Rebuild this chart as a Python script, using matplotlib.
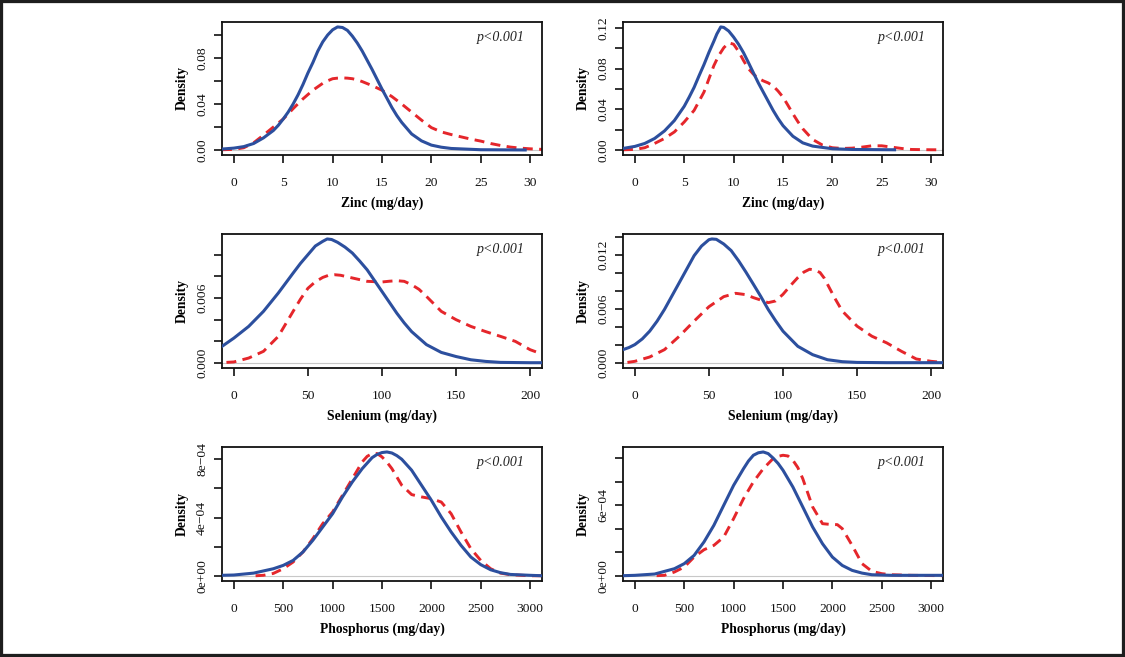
import matplotlib
matplotlib.use("Agg")
import matplotlib.pyplot as plt
from matplotlib.patches import Rectangle
import numpy as np

plt.rcParams['font.family'] = ['Liberation Serif', 'DejaVu Serif']

BLUE = '#2c4f9e'
RED = '#e5262b'

# Zinc, left panel
zinc_a_bx = [-1.2, 0, 1, 2, 3, 4, 4.5, 5, 5.5, 6, 6.5, 7, 7.5, 8, 8.5, 9, 9.5, 10, 10.5, 11, 11.5, 12, 12.5, 13,
             13.5, 14, 14.5, 15, 15.5, 16, 16.5, 17, 18, 19, 20, 21, 22, 25, 29.5]
zinc_a_by = [0.0009, 0.0017, 0.003, 0.0057, 0.0106, 0.017, 0.0215, 0.027, 0.033, 0.040, 0.048, 0.057, 0.067, 0.076,
             0.086, 0.094, 0.100, 0.1045, 0.107, 0.1065, 0.104, 0.099, 0.093, 0.086, 0.078, 0.070, 0.0615, 0.053,
             0.045, 0.037, 0.030, 0.024, 0.014, 0.008, 0.0043, 0.0025, 0.0014, 0.0003, 0.0001]
zinc_a_rx = [-1.2, 0, 1, 2, 3, 4, 5, 6, 7, 8, 9, 9.5, 10, 10.5, 11, 11.5, 12, 12.5, 13, 14, 15, 16, 17, 18, 19, 20,
             21, 22, 23, 24, 25, 26, 27, 28, 29, 30, 31.2]
zinc_a_ry = [0.0003, 0.0006, 0.002, 0.0063, 0.013, 0.020, 0.027, 0.036, 0.0445, 0.052, 0.058, 0.0602, 0.062, 0.0625,
             0.0627, 0.0625, 0.062, 0.061, 0.0595, 0.056, 0.052, 0.0465, 0.040, 0.033, 0.026, 0.0195, 0.0158, 0.0135,
             0.0115, 0.0095, 0.0078, 0.0057, 0.004, 0.0026, 0.0017, 0.0011, 0.0006]

# Zinc, right panel
zinc_b_bx = [-1.2, 0, 1, 2, 3, 4, 5, 5.5, 6, 6.5, 7, 7.5, 8, 8.3, 8.7, 9, 9.5, 10, 10.5, 11, 11.5, 12, 12.5, 13,
             13.5, 14, 14.5, 15, 16, 17, 18, 20, 22, 26.3]
zinc_b_by = [0.0016, 0.0036, 0.0065, 0.0114, 0.0188, 0.029, 0.043, 0.052, 0.0616, 0.073, 0.084, 0.096, 0.107, 0.114,
             0.121, 0.1205, 0.117, 0.111, 0.104, 0.0957, 0.086, 0.076, 0.066, 0.057, 0.048, 0.039, 0.031, 0.024,
             0.0136, 0.0071, 0.0039, 0.0013, 0.0006, 0.0003]
zinc_b_rx = [-1.2, 0, 1, 2, 3, 4, 5, 6, 7, 7.5, 8, 8.5, 9, 9.5, 10, 10.5, 11, 11.5, 12, 12.5, 13, 13.5, 14, 14.5, 15,
             15.5, 16, 16.5, 17, 18, 19, 20, 21, 22, 23, 24, 25, 26, 27, 28, 30, 31.2]
zinc_b_ry = [0.0003, 0.0006, 0.0023, 0.0065, 0.0114, 0.0178, 0.0276, 0.039, 0.057, 0.070, 0.083, 0.093, 0.1005,
             0.1054, 0.104, 0.097, 0.088, 0.080, 0.0746, 0.0705, 0.068, 0.066, 0.063, 0.058, 0.052, 0.044, 0.0357,
             0.028, 0.021, 0.0104, 0.0049, 0.0023, 0.0016, 0.0019, 0.0029, 0.0042, 0.0042, 0.0029, 0.0016, 0.0006,
             0.0003, 0.0003]

# Selenium, left panel
sel_a_bx = [-8, 0, 10, 20, 30, 40, 45, 50, 55, 60, 63, 66, 70, 75, 80, 85, 90, 95, 100, 105, 110, 115, 120, 130, 140,
            150, 160, 170, 180, 200, 208]
sel_a_by = [0.00154, 0.0023, 0.00338, 0.00477, 0.00646, 0.0083, 0.0092, 0.0100, 0.0108, 0.01123, 0.01145, 0.0114,
            0.01114, 0.0107, 0.01015, 0.0094, 0.0086, 0.0076, 0.0066, 0.0056, 0.0046, 0.0037, 0.0029, 0.0017,
            0.00098, 0.0006, 0.0003, 0.00015, 0.00006, 0.00003, 0.00003]
sel_a_rx = [-5, 0, 10, 20, 30, 40, 45, 50, 55, 60, 64, 68, 72, 80, 90, 100, 105, 110, 115, 120, 125, 130, 140, 150,
            160, 170, 180, 190, 200, 205]
sel_a_ry = [0.00006, 0.0001, 0.00046, 0.00108, 0.00246, 0.00477, 0.0059, 0.0069, 0.0075, 0.0079, 0.0081, 0.00815,
            0.0081, 0.00785, 0.00754, 0.00748, 0.00755, 0.0076, 0.00754, 0.00723, 0.0068, 0.00615, 0.00477, 0.0040,
            0.00338, 0.0029, 0.00246, 0.002, 0.00123, 0.00098]

# Selenium, right panel
sel_b_bx = [-8, -4, 0, 5, 10, 15, 20, 30, 40, 45, 50, 52, 55, 60, 65, 70, 75, 80, 85, 90, 95, 100, 110, 120, 130, 140,
            150, 170, 208]
sel_b_by = [0.00149, 0.00172, 0.00205, 0.00268, 0.00354, 0.00465, 0.00596, 0.00894, 0.01193, 0.0130, 0.01371,
            0.01379, 0.01375, 0.01323, 0.0125, 0.01137, 0.0101, 0.00876, 0.0074, 0.00596, 0.0047, 0.00354, 0.00186,
            0.00093, 0.00037, 0.00015, 0.00007, 0.00004, 0.00004]
sel_b_rx = [-5, 0, 10, 20, 30, 40, 50, 60, 68, 75, 80, 85, 90, 95, 100, 105, 110, 114, 118, 122, 125, 128, 130, 135,
            140, 150, 160, 170, 180, 190, 200, 208]
sel_b_ry = [0.00007, 0.00019, 0.00067, 0.00149, 0.00298, 0.00466, 0.00626, 0.00738, 0.00775, 0.0076, 0.00727,
            0.0070, 0.00671, 0.0069, 0.00764, 0.0086, 0.0095, 0.0101, 0.01043, 0.0103, 0.01006, 0.0094, 0.00876,
            0.0072, 0.00578, 0.0041, 0.00298, 0.00224, 0.0013, 0.00045, 0.00019, 0.00007]

# Phosphorus, left panel (density in units of 1e-4)
phos_a_bx = [-120, 0, 200, 400, 500, 600, 700, 800, 900, 1000, 1100, 1200, 1300, 1400, 1450, 1500, 1550, 1600, 1650,
             1700, 1800, 1900, 2000, 2100, 2200, 2300, 2400, 2500, 2600, 2700, 2800, 3000, 3120]
phos_a_by = [0.05, 0.07, 0.2, 0.5, 0.73, 1.07, 1.65, 2.45, 3.36, 4.27, 5.42, 6.45, 7.36, 8.11, 8.33, 8.46, 8.5, 8.43,
             8.25, 8.0, 7.25, 6.22, 5.19, 4.05, 3.02, 2.1, 1.3, 0.78, 0.43, 0.23, 0.11, 0.05, 0.02]
phos_a_rx = [220, 300, 400, 500, 600, 700, 800, 900, 1000, 1100, 1200, 1300, 1350, 1400, 1450, 1500, 1550, 1600,
             1700, 1800, 1900, 2000, 2100, 2200, 2300, 2400, 2500, 2600, 2700, 2800, 3000, 3120]
phos_a_ry = [0.02, 0.05, 0.18, 0.5, 0.96, 1.65, 2.56, 3.59, 4.39, 5.53, 6.67, 7.82, 8.2, 8.39, 8.39, 8.16, 7.8,
             7.36, 6.22, 5.58, 5.42, 5.3, 5.07, 4.27, 3.02, 1.87, 1.07, 0.5, 0.2, 0.09, 0.02, 0.02]

# Phosphorus, right panel (density in units of 1e-4)
phos_b_bx = [-120, 0, 200, 400, 500, 600, 700, 800, 900, 1000, 1100, 1150, 1200, 1250, 1300, 1350, 1400, 1450, 1500,
             1600, 1700, 1800, 1900, 2000, 2100, 2200, 2300, 2400, 2600, 3120]
phos_b_by = [0.03, 0.06, 0.17, 0.62, 1.05, 1.75, 2.89, 4.3, 6.0, 7.69, 9.1, 9.75, 10.24, 10.45, 10.52, 10.38, 10.0,
             9.55, 8.97, 7.55, 5.86, 4.16, 2.74, 1.61, 0.9, 0.48, 0.25, 0.11, 0.06, 0.06]
phos_b_rx = [220, 300, 400, 500, 600, 700, 800, 900, 1000, 1100, 1200, 1300, 1400, 1450, 1500, 1550, 1600, 1650, 1700,
             1800, 1900, 2000, 2050, 2100, 2200, 2300, 2400, 2500, 2600, 2800, 3120]
phos_b_ry = [0.03, 0.06, 0.34, 0.76, 1.61, 2.23, 2.6, 3.31, 4.87, 6.56, 7.98, 9.1, 9.96, 10.15, 10.24, 10.18, 9.82,
             9.2, 8.26, 5.86, 4.44, 4.36, 4.36, 4.02, 2.6, 1.05, 0.4, 0.2, 0.11, 0.06, 0.03]

zinc_ticks = [0, 5, 10, 15, 20, 25, 30]
sel_ticks = [0, 50, 100, 150, 200]
phos_ticks = [0, 500, 1000, 1500, 2000, 2500, 3000]

panels = [
    # (blue x, blue y, red x, red y, y scale, x ticks, x range, xlabel, y ticks, y labels shown)
    (zinc_a_bx, zinc_a_by, zinc_a_rx, zinc_a_ry, 1, zinc_ticks, (0, 30), 'Zinc (mg/day)',
     [0, 0.02, 0.04, 0.06, 0.08, 0.10], {0: '0.00', 0.04: '0.04', 0.08: '0.08'}),
    (zinc_b_bx, zinc_b_by, zinc_b_rx, zinc_b_ry, 1, zinc_ticks, (0, 30), 'Zinc (mg/day)',
     [0, 0.02, 0.04, 0.06, 0.08, 0.10, 0.12], {0: '0.00', 0.04: '0.04', 0.08: '0.08', 0.12: '0.12'}),
    (sel_a_bx, sel_a_by, sel_a_rx, sel_a_ry, 1, sel_ticks, (0, 200), 'Selenium (mg/day)',
     [0, 0.002, 0.004, 0.006, 0.008, 0.010], {0: '0.000', 0.006: '0.006'}),
    (sel_b_bx, sel_b_by, sel_b_rx, sel_b_ry, 1, sel_ticks, (0, 200), 'Selenium (mg/day)',
     [0, 0.002, 0.004, 0.006, 0.008, 0.010, 0.012, 0.014], {0: '0.000', 0.006: '0.006', 0.012: '0.012'}),
    (phos_a_bx, phos_a_by, phos_a_rx, phos_a_ry, 1e-4, phos_ticks, (0, 3000), 'Phosphorus (mg/day)',
     [0, 2e-4, 4e-4, 6e-4, 8e-4], {0: '0e+00', 4e-4: '4e\u221204', 8e-4: '8e\u221204'}),
    (phos_b_bx, phos_b_by, phos_b_rx, phos_b_ry, 1e-4, phos_ticks, (0, 3000), 'Phosphorus (mg/day)',
     [0, 2e-4, 4e-4, 6e-4, 8e-4, 10e-4], {0: '0e+00', 6e-4: '6e\u221204'}),
]

fig = plt.figure(figsize=(11.25, 6.57), dpi=100)

W, H = 1125, 657
lefts = [222, 623]
rows = [(22, 155), (234, 368), (447, 581)]

for i, (bx, by, rx, ry, scale, xt, xr, xlab, yt, ylabs) in enumerate(panels):
    top, bot = rows[i // 2]
    left = lefts[i % 2]
    ax = fig.add_axes([left / W, 1 - bot / H, 320 / W, (bot - top) / H])

    by = np.array(by) * scale
    ry = np.array(ry) * scale

    ax.axhline(0, color='#c8c8c8', lw=0.8, zorder=1)
    ax.plot(rx, ry, color=RED, lw=2.1, linestyle=(0, (3.4, 2.2)), zorder=2,
            solid_joinstyle='round', dash_joinstyle='round')
    ax.plot(bx, by, color=BLUE, lw=2.2, zorder=3, solid_joinstyle='round')

    span = xr[1] - xr[0]
    ax.set_xlim(xr[0] - 0.04 * span, xr[1] + 0.04 * span)
    ymax = max(by.max(), ry.max())
    ax.set_ylim(-0.04 * ymax, 1.04 * ymax)

    ax.set_xticks(xt)
    ax.set_xticklabels([str(t) for t in xt])
    ax.set_yticks(yt)
    labs = []
    for t in yt:
        key = [k for k in ylabs if abs(k - t) < 1e-9]
        labs.append(ylabs[key[0]] if key else '')
    ax.set_yticklabels(labs, rotation=90, va='center')

    ax.tick_params(axis='both', direction='out', length=6, width=1.2, labelsize=9.7, colors='#111111')
    ax.tick_params(axis='x', pad=10)
    ax.tick_params(axis='y', pad=4)
    for s in ax.spines.values():
        s.set_linewidth(1.3)
        s.set_color('#111111')

    ax.set_xlabel(xlab, fontsize=9.8, fontweight='bold', labelpad=5)
    ax.set_ylabel('Density', fontsize=9.8, fontweight='bold', labelpad=5)
    ax.text(0.947, 0.885, 'p<0.001', transform=ax.transAxes, ha='right', va='center',
            fontsize=10, style='italic', color='#222222')

# dark frame round the picture
fig.patches.append(Rectangle((0, 0), 1, 1, transform=fig.transFigure, fill=False,
                             edgecolor='#1e1e1e', linewidth=4.5, zorder=10))

fig.savefig('out.png', dpi=100)
